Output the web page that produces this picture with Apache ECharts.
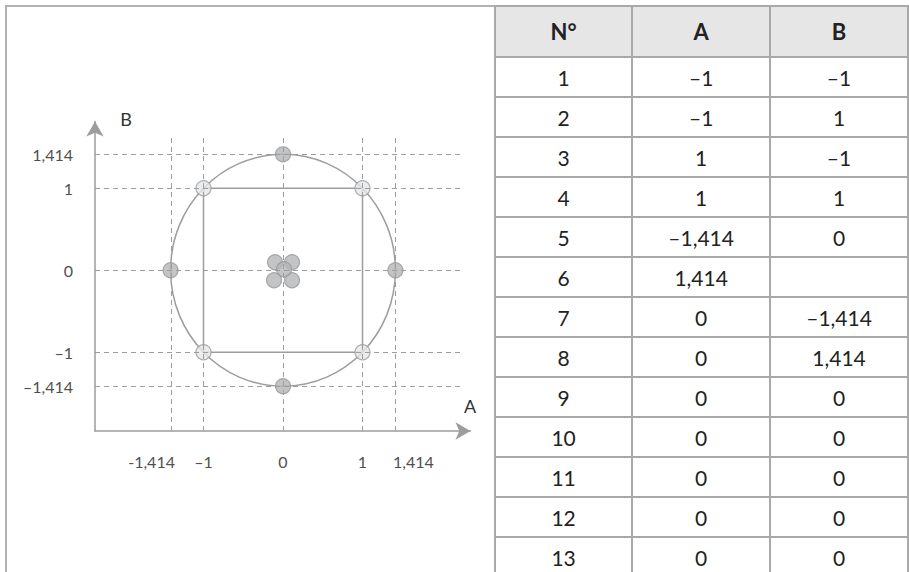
<!DOCTYPE html>
<html>
<head>
<meta charset="utf-8">
<script src="https://cdn.jsdelivr.net/npm/echarts@6/dist/echarts.min.js"></script>
<style>
html, body { margin: 0; padding: 0; background: #fff; width: 909px; height: 572px; overflow: hidden; }
#frame { position: absolute; left: 5px; top: 5px; width: 495px; height: 600px; border-left: 2px solid #b3b3b3; border-top: 2px solid #b3b3b3; box-sizing: border-box; }
#chart { position: absolute; left: 0; top: 0; width: 909px; height: 572px; }
#tbl { position: absolute; left: 494px; top: 5px; border-collapse: collapse; table-layout: fixed; font-family: Lato, "Noto Sans", sans-serif; font-size: 21px; color: #222; z-index: 5; background: #fff; }
#tbl td, #tbl th { border: 2px solid #a9a9a9; width: 138px; text-align: center; padding: 0; height: 38px; line-height: 21px; }
#tbl th { height: 49px; background: #e6e6e7; font-weight: 700; font-size: 22px; }
</style>
</head>
<body>
<div id="frame"></div>
<div id="chart"></div>
<table id="tbl"><thead><tr id="head"></tr></thead><tbody id="body"></tbody></table>
<script>
// ---- data ----
const tableHeader = ['N°', 'A', 'B'];
const runNo   = [1, 2, 3, 4, 5, 6, 7, 8, 9, 10, 11, 12, 13];
const factorA = [-1, -1, 1, 1, -1.414, 1.414, 0, 0, 0, 0, 0, 0, 0];
const factorB = [-1, 1, -1, 1, 0, 0, -1.414, 1.414, 0, 0, 0, 0, 0];
const tableA  = ['–1', '–1', '1', '1', '–1,414', '1,414', '0', '0', '0', '0', '0', '0', '0'];
const tableB  = ['–1', '1', '–1', '1', '0', '', '–1,414', '1,414', '0', '0', '0', '0', '0'];
const pointKind = ['factorial', 'factorial', 'factorial', 'factorial', 'axial', 'axial', 'axial', 'axial', 'center', 'center', 'center', 'center', 'center'];
const xTickValues = [-1.414, -1, 0, 1, 1.414];
const xTickLabels = ['-1,414', '–1', '0', '1', '1,414'];
const yTickValues = [-1.414, -1, 0, 1, 1.414];
const yTickLabels = ['–1,414', '–1', '0', '1', '1,414'];
const axialDistance = 1.414;
const squareRuns = [1, 2, 4, 3, 1];
const axisNames = ['A', 'B'];

// ---- table ----
const head = document.getElementById('head');
tableHeader.forEach(h => { const th = document.createElement('th'); th.textContent = h; head.appendChild(th); });
const body = document.getElementById('body');
runNo.forEach((n, i) => {
  const tr = document.createElement('tr');
  [String(n), tableA[i], tableB[i]].forEach(t => { const td = document.createElement('td'); td.textContent = t; tr.appendChild(td); });
  body.appendChild(tr);
});

// ---- chart ----
const GRAY = '#9d9d9d';
const LABEL = '#505050';
const labelFont = 'Lato, "Noto Sans", sans-serif';
const kindStyle = {
  factorial: { color: '#e6e7e8', borderColor: '#9a9a9a', borderWidth: 1.2 },
  axial: { color: '#b4b5b7', borderColor: '#979797', borderWidth: 1.2 },
  center: { color: '#b4b5b7', borderColor: '#979797', borderWidth: 1.2 }
};
const centerOffsets = [[-8, -8], [9, -8], [-9, 10], [9, 10], [1, -1]];
let centerIdx = 0;
const pointData = runNo.map((n, i) => {
  const item = { value: [factorA[i], factorB[i]], itemStyle: kindStyle[pointKind[i]] };
  if (pointKind[i] === 'center') item.symbolOffset = centerOffsets[centerIdx++];
  return item;
});
const findLabel = (vals, labels, v) => { const k = vals.findIndex(t => Math.abs(t - v) < 1e-6); return k < 0 ? '' : labels[k]; };

const chart = echarts.init(document.getElementById('chart'), null, { renderer: 'svg' });
chart.setOption({
  animation: false,
  backgroundColor: 'transparent',
  grid: [
    { left: 95, right: 446, top: 138, bottom: 141, outerBoundsMode: 'none' },
    { left: 95, right: 438.5, top: 121.5, bottom: 141, outerBoundsMode: 'none' }
  ],
  xAxis: [
    {
      gridIndex: 0, type: 'value', min: -2.365, max: 2.264,
      axisLine: { show: false }, axisTick: { show: false }, splitLine: { show: false },
      axisLabel: {
        customValues: xTickValues, margin: 22, fontSize: 16, color: LABEL, fontFamily: labelFont,
        formatter: v => {
          const t = findLabel(xTickValues, xTickLabels, v);
          if (v < -1.2) return '{l|' + t + '}';
          if (v > 1.2) return '{r|' + t + '}';
          return '{c|' + t + '}';
        },
        rich: {
          l: { fontSize: 16, color: LABEL, fontFamily: labelFont, padding: [0, 38, 0, 0] },
          r: { fontSize: 16, color: LABEL, fontFamily: labelFont, padding: [0, 0, 0, 36] },
          c: { fontSize: 16, color: LABEL, fontFamily: labelFont }
        }
      }
    },
    {
      gridIndex: 1, type: 'value', min: 0, max: 1,
      axisLine: { show: true, onZero: false, symbol: ['none', 'arrow'], symbolSize: [13, 15], lineStyle: { color: GRAY, width: 1.5 } },
      axisTick: { show: false }, axisLabel: { show: false }, splitLine: { show: false },
      name: axisNames[0], nameLocation: 'end', nameGap: -6.5,
      nameTextStyle: { fontSize: 18, color: '#333', fontFamily: labelFont, verticalAlign: 'bottom', padding: [0, 0, 16, 0] }
    }
  ],
  yAxis: [
    {
      gridIndex: 0, type: 'value', min: -1.960, max: 1.613,
      axisLine: { show: false }, axisTick: { show: false }, splitLine: { show: false },
      axisLabel: {
        customValues: yTickValues, margin: 22, fontSize: 16, color: LABEL, fontFamily: labelFont,
        formatter: v => findLabel(yTickValues, yTickLabels, v)
      }
    },
    {
      gridIndex: 1, type: 'value', min: 0, max: 1,
      axisLine: { show: true, onZero: false, symbol: ['none', 'arrow'], symbolSize: [13, 15], lineStyle: { color: GRAY, width: 1.5 } },
      axisTick: { show: false }, axisLabel: { show: false }, splitLine: { show: false },
      name: axisNames[1], nameLocation: 'end', nameGap: -6,
      nameTextStyle: { fontSize: 18, color: '#333', fontFamily: labelFont, padding: [0, 0, 0, 62] }
    }
  ],
  series: [
    {
      type: 'line', xAxisIndex: 0, yAxisIndex: 0, data: [], silent: true, symbol: 'none',
      markLine: {
        silent: true, symbol: 'none', label: { show: false },
        lineStyle: { color: GRAY, width: 1, type: [5, 4] },
        data: xTickValues.map(v => ({ xAxis: v })).concat(yTickValues.map(v => ({ yAxis: v })))
      },
      z: 1
    },
    {
      type: 'custom', xAxisIndex: 0, yAxisIndex: 0, silent: true, clip: false, z: 2,
      data: [[0, 0]],
      renderItem: (params, api) => {
        const c = api.coord([api.value(0), api.value(1)]);
        const ex = api.coord([axialDistance, 0]);
        const ey = api.coord([0, axialDistance]);
        return { type: 'ellipse', shape: { cx: c[0], cy: c[1], rx: ex[0] - c[0], ry: c[1] - ey[1] }, style: { fill: 'none', stroke: GRAY, lineWidth: 1.5 } };
      }
    },
    {
      type: 'line', xAxisIndex: 0, yAxisIndex: 0, silent: true, symbol: 'none', z: 3,
      lineStyle: { color: GRAY, width: 1.5 },
      data: squareRuns.map(r => [factorA[r - 1], factorB[r - 1]])
    },
    {
      type: 'scatter', xAxisIndex: 0, yAxisIndex: 0, silent: true, symbolSize: 15, z: 4,
      data: pointData
    }
  ]
});
</script>
</body>
</html>
